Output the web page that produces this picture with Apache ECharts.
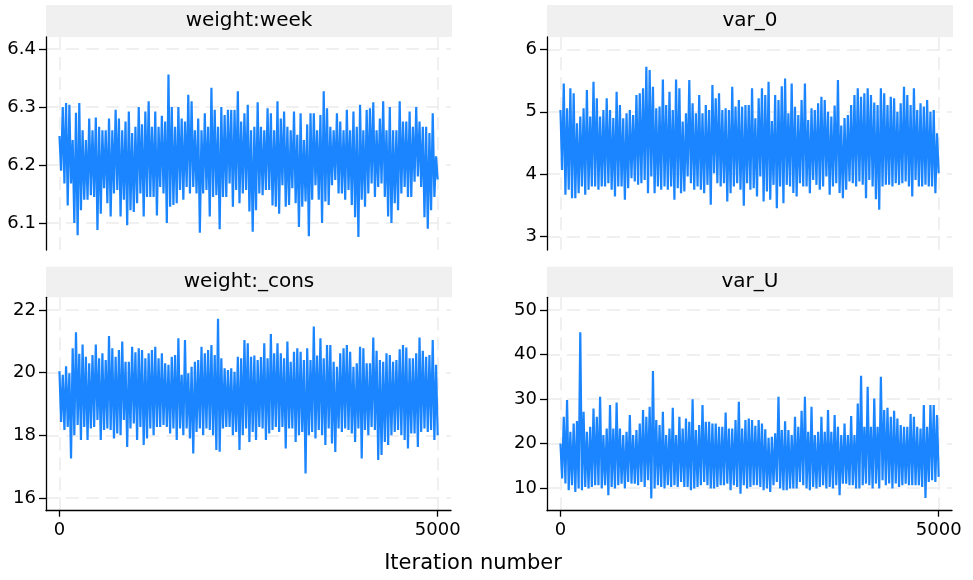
<!DOCTYPE html>
<html><head><meta charset="utf-8">
<script src="https://cdn.jsdelivr.net/npm/echarts@6/dist/echarts.min.js"></script>
<style>html,body{margin:0;padding:0;background:#fff}#c{width:973px;height:580px}</style>
</head><body><div id="c"></div>
<script>
// ---- data (each column = upper / lower excursion) ----
const panelTitles = ['weight:week', 'var_0', 'weight:_cons', 'var_U'];
const xTitle = 'Iteration number';
const xTicks = [0, 5000];
const yTicksWeek = [6.1, 6.2, 6.3, 6.4];
const yTicksVar0 = [3, 4, 5, 6];
const yTicksCons = [16, 18, 20, 22];
const yTicksVarU = [10, 20, 30, 40, 50];
const lastIteration = 5000;

const weekHi = [6.25,6.30,6.307,6.304,6.243,6.29,6.307,6.26,6.243,6.28,6.26,6.282,6.266,6.26,6.26,6.28,6.26,6.295,6.28,6.26,6.275,6.292,6.255,6.266,6.30,6.27,6.292,6.31,6.266,6.292,6.266,6.285,6.275,6.356,6.30,6.266,6.30,6.28,6.275,6.321,6.31,6.26,6.28,6.26,6.289,6.266,6.333,6.295,6.266,6.30,6.286,6.295,6.295,6.295,6.327,6.275,6.289,
 6.304,6.26,6.266,6.308,6.266,6.26,6.298,6.289,6.26,6.31,6.28,6.292,6.266,6.26,6.292,6.252,6.289,6.243,6.27,6.289,6.289,6.26,6.286,6.327,6.298,6.266,6.26,6.289,6.275,6.26,6.295,6.26,6.292,6.266,6.304,6.26,6.295,6.298,6.308,6.26,6.28,6.31,6.26,6.30,6.26,6.26,6.31,6.275,6.275,6.292,6.266,6.30,6.275,6.266,6.266,6.255,6.289,6.215];
const weekLo = [6.19,6.168,6.13,6.168,6.10,6.079,6.122,6.14,6.14,6.148,6.145,6.088,6.116,6.16,6.134,6.111,6.151,6.157,6.111,6.14,6.096,6.122,6.119,6.134,6.151,6.111,6.145,6.145,6.145,6.113,6.162,6.151,6.10,6.128,6.131,6.134,6.157,6.14,6.162,6.151,6.162,6.151,6.083,6.151,6.157,6.111,6.145,6.148,6.089,6.145,6.145,6.168,6.128,6.157,6.134,6.151,6.157,
 6.12,6.085,6.122,6.151,6.148,6.157,6.157,6.13,6.128,6.116,6.165,6.128,6.131,6.16,6.134,6.093,6.128,6.137,6.077,6.14,6.165,6.14,6.10,6.137,6.131,6.165,6.174,6.151,6.151,6.14,6.157,6.131,6.11,6.076,6.14,6.128,6.151,6.168,6.145,6.162,6.168,6.145,6.111,6.10,6.134,6.122,6.151,6.162,6.145,6.145,6.171,6.18,6.162,6.11,6.09,6.122,6.145,6.175];

const var0Hi = [5.028,5.454,5.055,5.375,5.295,4.815,4.922,5.055,5.348,4.922,5.481,5.215,4.922,5.028,5.215,5.028,4.9,5.321,5.108,4.895,4.975,5.028,4.948,5.268,5.295,5.375,5.721,5.668,5.401,5.055,5.082,5.518,5.108,5.321,5.028,5.518,5.375,4.842,4.975,5.508,5.135,4.975,5.268,4.975,5.108,5.028,5.428,5.215,5.295,5.028,5.055,5.028,5.401,5.082,5.188,5.082,5.108,5.108,
 5.375,4.895,5.215,5.375,5.268,5.481,4.85,5.268,5.188,5.41,5.534,4.975,5.454,5.082,4.948,5.188,5.454,4.868,5.055,5.028,5.135,5.241,5.188,5.001,4.922,5.10,5.508,4.78,4.9,4.948,5.108,5.268,5.375,5.241,5.295,5.375,5.268,5.15,5.11,5.375,5.295,5.108,5.241,5.215,5.0,5.135,5.401,5.268,5.108,5.375,5.028,5.135,5.082,5.188,5.0,5.028,4.655];
const var0Lo = [4.069,3.67,3.75,3.616,3.616,3.696,3.803,3.67,3.75,3.803,3.803,3.75,3.803,3.803,3.856,3.75,3.643,3.803,3.803,3.59,3.776,3.936,3.883,3.83,3.856,3.909,3.696,3.963,3.696,3.803,3.75,3.803,3.75,3.803,3.59,3.776,3.696,3.723,3.963,3.856,3.75,3.803,3.75,3.696,3.83,3.51,4.016,3.856,3.803,3.856,3.563,3.696,3.803,3.856,3.75,3.494,3.856,3.75,
 3.776,3.643,3.963,3.563,3.723,3.59,3.83,3.457,3.803,3.536,3.83,3.803,3.70,3.643,3.856,3.803,3.803,3.696,3.909,3.83,3.75,3.803,3.963,3.67,3.803,3.856,3.7,3.616,3.75,3.883,3.856,3.803,3.883,3.83,3.616,3.909,3.803,3.6,3.43,3.803,3.83,3.83,3.803,3.856,3.83,3.856,3.883,3.803,3.643,3.909,3.803,3.803,3.83,3.803,3.803,3.696,4.016];

const consHi = [20.05,19.93,20.2,19.98,20.78,21.29,20.6,20.9,20.51,20.30,20.565,20.9,20.46,20.62,20.4,21.17,20.78,20.51,20.72,20.99,20.35,20.35,20.83,20.65,20.78,20.72,20.46,20.62,20.72,20.83,20.46,20.62,20.30,20.25,20.51,20.565,21.1,19.93,21.04,19.98,20.19,20.35,20.40,20.83,20.62,20.72,20.88,20.565,21.72,20.458,20.14,20.085,20.139,20.03,20.51,20.458,21.04,20.94,
 20.51,20.55,20.4,20.5,20.94,20.46,21.23,20.62,20.94,20.62,20.46,20.99,20.35,20.67,20.78,20.67,20.40,20.78,20.40,21.47,20.55,21.10,20.46,20.88,20.88,20.35,20.19,20.62,20.78,20.88,20.67,20.19,20.30,20.83,20.78,20.30,20.30,21.12,20.70,20.40,20.35,20.62,20.565,20.35,20.40,20.75,20.88,20.80,20.46,20.46,20.62,21.12,20.70,20.51,20.565,21.04,20.25];
const consLo = [18.43,18.17,18.27,17.26,18.0,18.33,17.85,18.27,17.85,18.22,18.27,18.49,17.85,18.17,18.22,18.17,17.90,18.06,18.0,18.49,17.63,18.22,18.38,17.85,18.27,17.69,17.90,18.22,18.0,18.27,18.27,18.33,18.27,18.06,18.22,17.85,18.22,18.0,18.22,17.90,17.42,18.11,18.22,18.0,18.22,18.17,18.0,17.53,17.48,18.22,18.27,18.27,18.0,18.11,17.53,18.0,18.22,17.79,
 18.11,17.85,18.27,18.22,17.85,18.06,18.17,18.27,18.11,18.27,17.58,18.22,18.22,17.79,18.0,18.11,16.78,18.0,18.11,17.90,18.17,18.0,17.69,18.22,17.74,17.47,18.22,18.11,18.22,18.17,18.06,17.79,18.22,17.26,18.17,18.0,18.27,18.17,17.21,17.37,17.79,17.69,18.0,18.11,18.17,18.0,17.85,17.58,18.06,18.06,17.63,18.11,18.22,18.11,18.17,17.85,18.0];

const varUHi = [20,26.0,29.76,22.63,24.5,25.03,45.0,27.13,22.63,23.75,27.88,26.0,30.51,21.88,23.38,28.63,23.38,29.23,23.38,21.88,22.63,26.38,21.88,23.0,24.5,27.5,26.0,28.26,36.29,25.25,24.13,27.13,21.88,23.38,28.03,21.88,26.0,23.38,25.63,24.88,29.91,23.0,24.13,28.63,24.88,24.88,24.5,24.5,23.75,23.75,26.98,23.38,23.38,25.25,29.38,23.38,25.25,25.63,
 25.25,24.0,25.25,24.5,23.2,21.3,21.5,22.3,30.51,23.0,25.0,23.0,21.88,26.0,23.75,27.35,30.51,22.63,28.26,21.88,22.63,26.0,22.63,27.5,22.63,26.38,23.75,21.88,24.5,21.88,26.2,21.88,29.0,35.23,23.75,32.76,23.75,30.13,23.75,35.0,27.5,28.03,26.0,27.35,25.63,24.13,23.75,23.75,26.6,26.0,23.75,23.38,28.63,23.75,28.63,28.63,26.38];
const varULo = [12.12,10.99,9.49,10.62,9.12,9.87,9.49,10.24,9.87,10.24,10.62,10.62,9.87,10.62,8.37,10.24,9.87,10.62,10.99,9.87,11.37,10.99,10.99,10.62,11.37,10.24,11.74,7.62,9.87,10.62,10.24,9.87,10.62,10.24,10.62,10.24,11.37,10.24,10.24,9.49,9.87,10.24,10.62,11.37,10.62,9.87,9.87,10.24,10.62,10.62,10.99,9.49,10.62,10.24,8.74,10.62,9.87,10.24,
 10.62,10.62,10.24,9.49,9.87,9.12,10.62,11.37,9.87,9.49,9.49,9.87,9.87,9.87,11.37,10.62,9.87,9.49,10.24,9.87,10.24,10.62,9.87,10.24,9.87,10.62,8.37,10.99,10.99,10.62,10.62,9.87,9.87,10.62,10.99,10.62,9.87,10.99,9.87,11.74,10.62,10.99,9.87,10.99,10.24,10.62,10.99,10.62,10.62,10.62,10.62,10.24,7.77,11.37,11.74,11.37,12.5];

// ---- build ----
function trace(hi, lo) {
  const n = Math.min(hi.length, lo.length);
  const total = 2 * n;
  const out = [];
  for (let k = 0; k < n; k++) {
    out.push([(2 * k) * lastIteration / (total - 1), hi[k]]);
    out.push([(2 * k + 1) * lastIteration / (total - 1), lo[k]]);
  }
  return out;
}

const FONT = 'DejaVu Sans';
const BLUE = '#1a85ff';
const gridDash = { color: '#ebebeb', width: 1.5, type: [13, 7] };

const panels = [
  { title: panelTitles[0], hi: weekHi, lo: weekLo, yTicks: yTicksWeek, yMin: 6.0534, yMax: 6.4207, left: 46, top: 37, height: 213, bottom: false },
  { title: panelTitles[1], hi: var0Hi, lo: var0Lo, yTicks: yTicksVar0, yMin: 2.787, yMax: 6.197, left: 547, top: 37, height: 213, bottom: false },
  { title: panelTitles[2], hi: consHi, lo: consLo, yTicks: yTicksCons, yMin: 15.595, yMax: 22.405, left: 46, top: 297.3, height: 213.4, bottom: true },
  { title: panelTitles[3], hi: varUHi, lo: varULo, yTicks: yTicksVarU, yMin: 4.9, yMax: 52.85, left: 547, top: 297.3, height: 213.4, bottom: true }
];
const W = 405;

const option = {
  animation: false,
  backgroundColor: '#ffffff',
  textStyle: { fontFamily: FONT },
  grid: panels.map(p => ({ left: p.left, top: p.top, width: W, height: p.height, containLabel: false })),
  xAxis: panels.map((p, i) => ({
    gridIndex: i, type: 'value', min: -178, max: 5176,
    axisLine: { show: p.bottom, onZero: false, lineStyle: { color: '#000', width: 1.3 } },
    axisTick: { show: p.bottom, customValues: xTicks, length: 6, lineStyle: { color: '#000', width: 1.3 } },
    axisLabel: { show: p.bottom, customValues: xTicks, margin: 11, fontSize: 18, color: '#000', fontFamily: FONT,
                 formatter: v => String(v) },
    splitLine: { show: true, lineStyle: gridDash }
  })),
  yAxis: panels.map((p, i) => ({
    gridIndex: i, type: 'value', min: p.yMin, max: p.yMax,
    axisLine: { show: true, onZero: false, lineStyle: { color: '#000', width: 1.3 } },
    axisTick: { show: true, customValues: p.yTicks, length: 7, lineStyle: { color: '#000', width: 1.3 } },
    axisLabel: { show: true, customValues: p.yTicks, margin: 10, fontSize: 18, color: '#000', fontFamily: FONT,
                 formatter: v => String(v) },
    splitLine: { show: true, lineStyle: gridDash }
  })),
  series: panels.map((p, i) => ({
    type: 'line', xAxisIndex: i, yAxisIndex: i,
    data: trace(p.hi, p.lo),
    showSymbol: false, symbol: 'none', silent: true,
    lineStyle: { color: BLUE, width: 2.2, join: 'miter', miterLimit: 2 },
    z: 3
  })),
  graphic: panels.flatMap(p => {
    const barTop = p.bottom ? 266.7 : 5;
    const barH = p.top - barTop;
    return [
      { type: 'rect', silent: true, shape: { x: p.left, y: barTop, width: W + 1, height: barH }, style: { fill: '#f0f0f0' } },
      { type: 'text', silent: true, x: p.left + (W + 1) / 2, y: barTop + barH / 2,
        style: { text: p.title, fill: '#000', font: '20px "' + FONT + '"', align: 'center', verticalAlign: 'middle' } }
    ];
  }).concat([
    { type: 'text', silent: true, x: 473, y: 564,
      style: { text: xTitle, fill: '#000', font: '21px "' + FONT + '"', align: 'center', verticalAlign: 'middle' } }
  ])
};

const chart = echarts.init(document.getElementById('c'), null, { renderer: 'canvas' });
chart.setOption(option);
</script>
</body></html>
